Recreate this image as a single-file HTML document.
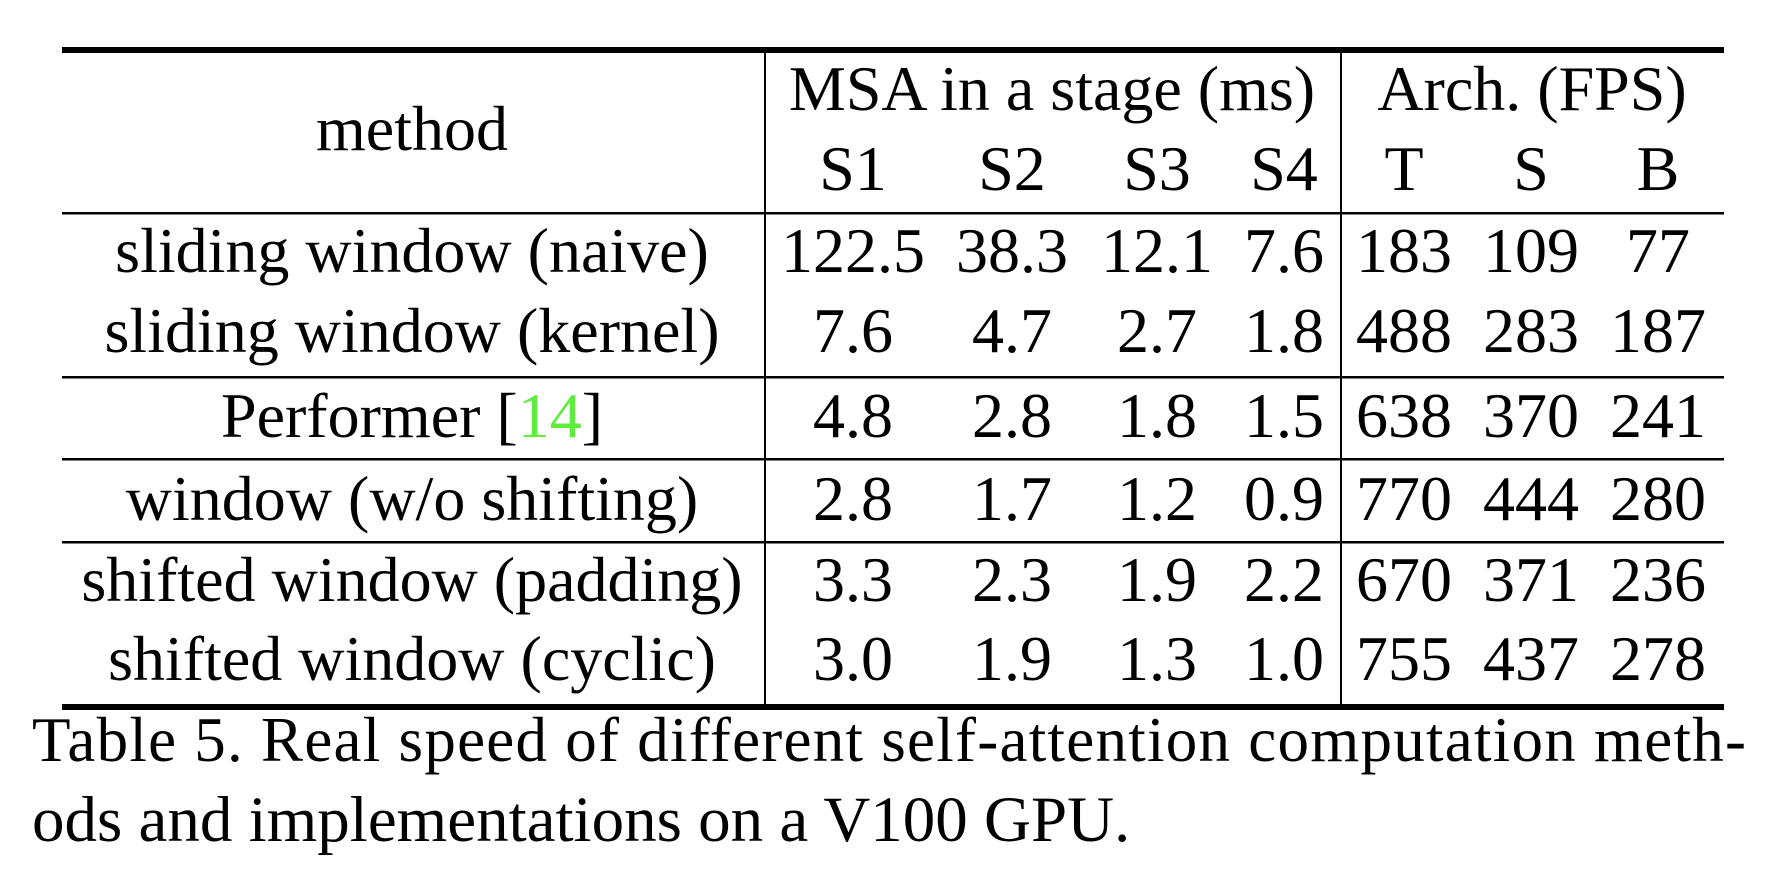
<!DOCTYPE html>
<html><head><meta charset="utf-8"><style>
html,body{margin:0;padding:0;background:#fff;}
svg{display:block;}
text{font-family:"Liberation Serif","Times New Roman",serif;fill:#000;}
</style></head><body>
<svg width="1778" height="882" viewBox="0 0 1778 882">
<g>
<rect x="62" y="47" width="1662" height="6" fill="#000"/>
<rect x="62" y="212" width="1662" height="2.5" fill="#000"/>
<rect x="62" y="376" width="1662" height="2.5" fill="#000"/>
<rect x="62" y="458" width="1662" height="2.5" fill="#000"/>
<rect x="62" y="541" width="1662" height="2.5" fill="#000"/>
<rect x="62" y="704" width="1662" height="6" fill="#000"/>
<rect x="764" y="53" width="2" height="651" fill="#000"/>
<rect x="1340" y="53" width="2" height="651" fill="#000"/>
</g>
<g font-size="64" text-anchor="middle">
<text x="412" y="150">method</text>
<text x="1052" y="110">MSA in a stage (ms)</text>
<text x="1532" y="110">Arch. (FPS)</text>
<text x="853" y="190">S1</text>
<text x="1012" y="190">S2</text>
<text x="1157" y="190">S3</text>
<text x="1284" y="190">S4</text>
<text x="1404" y="190">T</text>
<text x="1531" y="190">S</text>
<text x="1658" y="190">B</text>
</g>
<g id="body" font-size="64" text-anchor="middle"></g>
<text x="32" y="761" font-size="63" textLength="1714" lengthAdjust="spacing">Table 5. Real speed of different self-attention computation meth-</text>
<text x="32" y="841" font-size="65">ods and implementations on a V100 GPU.</text>
</svg>
<script>
const methods = ["sliding window (naive)","sliding window (kernel)","Performer","window (w/o shifting)","shifted window (padding)","shifted window (cyclic)"];
const msa = [["122.5","38.3","12.1","7.6"],["7.6","4.7","2.7","1.8"],["4.8","2.8","1.8","1.5"],["2.8","1.7","1.2","0.9"],["3.3","2.3","1.9","2.2"],["3.0","1.9","1.3","1.0"]];
const fps = [["183","109","77"],["488","283","187"],["638","370","241"],["770","444","280"],["670","371","236"],["755","437","278"]];
const NS="http://www.w3.org/2000/svg";
const g=document.getElementById('body');
const baselines=[272,352,437,520,601,680];
const colX=[853,1012,1157,1284,1404,1531,1658];
function txt(x,y,s,name){const t=document.createElementNS(NS,'text');t.setAttribute('x',x);t.setAttribute('y',y);t.textContent=s;


g.appendChild(t);return t;}
methods.forEach((m,i)=>{
  const y=baselines[i];
  if(m==="Performer"){
    const t=txt(412,y,'', 'method-cell');
    t.appendChild(document.createTextNode('Performer ['));
    const sp=document.createElementNS(NS,'tspan');sp.setAttribute('fill','#5fec3f');sp.textContent='14';
    
    
    t.appendChild(sp);t.appendChild(document.createTextNode(']'));
  } else txt(412,y,m,'method-cell');
  msa[i].forEach((v,j)=>txt(colX[j],y,v,'msa-cell'));
  fps[i].forEach((v,j)=>txt(colX[4+j],y,v,'fps-cell'));
});
</script>
</body></html>
